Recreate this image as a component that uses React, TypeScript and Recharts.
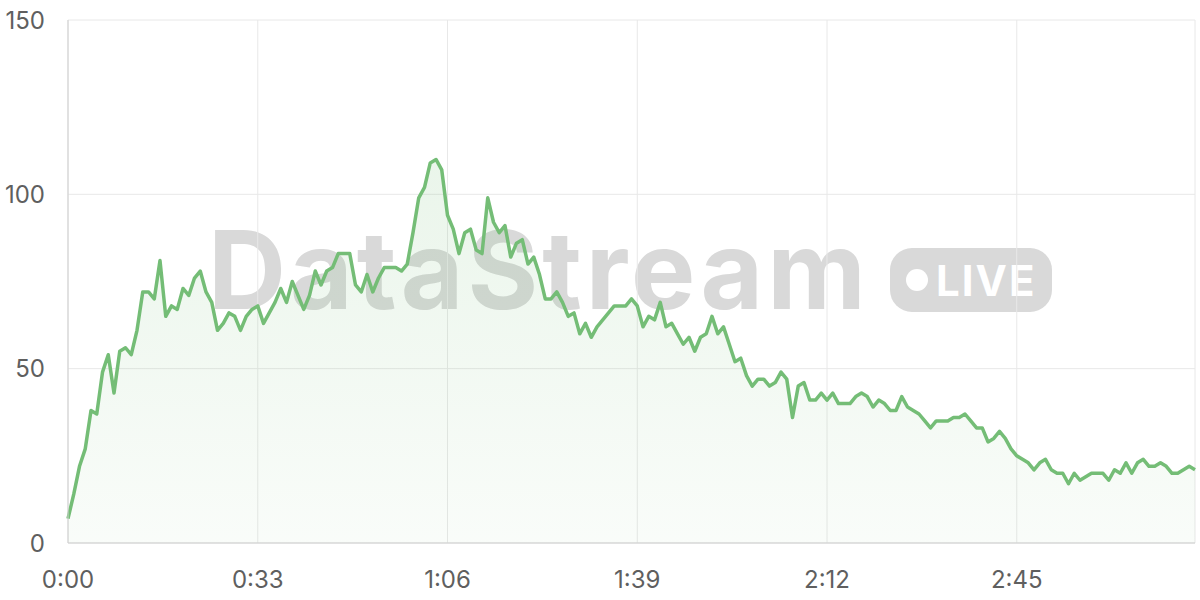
import { AreaChart, Area, XAxis, YAxis, CartesianGrid } from 'recharts'

// viewers per second (0:00 .. 3:16)
const viewers = [
  7, 14, 22, 27, 38, 37, 49, 54, 43, 55, 56, 54, 61, 72, 72, 70, 81, 65, 68, 67,
  73, 71, 76, 78, 72, 69, 61, 63, 66, 65, 61, 65, 67, 68, 63, 66, 69, 73, 69, 75,
  71, 67, 71, 78, 74, 78, 79, 83, 83, 83, 74, 72, 77, 72, 76, 79, 79, 79, 78, 80,
  89, 99, 102, 109, 110, 107, 94, 90, 83, 89, 90, 84, 83, 99, 92, 89, 91, 82, 86, 87,
  80, 82, 77, 70, 70, 72, 69, 65, 66, 60, 63, 59, 62, 64, 66, 68, 68, 68, 70, 68,
  62, 65, 64, 69, 62, 63, 60, 57, 59, 55, 59, 60, 65, 60, 62, 57, 52, 53, 48, 45,
  47, 47, 45, 46, 49, 47, 36, 45, 46, 41, 41, 43, 41, 43, 40, 40, 40, 42, 43, 42,
  39, 41, 40, 38, 38, 42, 39, 38, 37, 35, 33, 35, 35, 35, 36, 36, 37, 35, 33, 33,
  29, 30, 32, 30, 27, 25, 24, 23, 21, 23, 24, 21, 20, 20, 17, 20, 18, 19, 20, 20,
  20, 18, 21, 20, 23, 20, 23, 24, 22, 22, 23, 22, 20, 20, 21, 22, 21,
]
const xTicks = [0, 33, 66, 99, 132, 165]
const yTicks = [0, 50, 100, 150]

const data = viewers.map((v, i) => ({ t: i, v }))

const fmt = (s: number) => `${Math.floor(s / 60)}:${String(s % 60).padStart(2, '0')}`

const tickStyle = { fill: '#5f5f5f', fontSize: 24, fontFamily: 'Inter, sans-serif' }

export default function App() {
  return (
    <div style={{ position: 'absolute', left: 0, top: 0, width: 1200, height: 600, background: '#fff' }}>
      {/* watermark */}
      <div
        style={{
          position: 'absolute', left: 208, top: 205, fontFamily: 'Inter, sans-serif',
          fontWeight: 700, fontSize: 108, letterSpacing: 4, color: '#d9d9d9', lineHeight: '130px',
        }}
      >
        DataStream
      </div>
      <div
        style={{
          position: 'absolute', left: 890, top: 248, width: 162, height: 64, borderRadius: 22,
          background: '#d9d9d9', display: 'flex', alignItems: 'center',
        }}
      >
        <div style={{ width: 22, height: 22, borderRadius: 11, background: '#fff', marginLeft: 16 }} />
        <div style={{ color: '#fff', fontFamily: 'Inter, sans-serif', fontWeight: 700, fontSize: 42, letterSpacing: 2, marginLeft: 8 }}>
          LIVE
        </div>
      </div>

      <div style={{ position: 'absolute', left: 0, top: 0 }}>
        <AreaChart width={1200} height={600} data={data} margin={{ top: 20, right: 5, bottom: 0, left: 0 }}>
          <defs>
            <linearGradient id="fillGreen" x1="0" y1="0" x2="0" y2="1">
              <stop offset="0%" stopColor="#74bd76" stopOpacity={0.25} />
              <stop offset="100%" stopColor="#74bd76" stopOpacity={0.07} />
            </linearGradient>
          </defs>
          <CartesianGrid stroke="#e8e8e8" />
          <XAxis
            dataKey="t"
            type="number"
            domain={[0, 196]}
            ticks={xTicks}
            tickFormatter={fmt}
            height={57}
            tickSize={0}
            tickMargin={28}
            tick={tickStyle}
            axisLine={{ stroke: '#cfcfcf' }}
          />
          <YAxis
            domain={[0, 150]}
            ticks={yTicks}
            width={68}
            tickSize={0}
            tickMargin={23}
            tick={tickStyle}
            axisLine={{ stroke: '#cfcfcf' }}
          />
          <Area
            type="linear"
            dataKey="v"
            stroke="#74bd76"
            strokeWidth={3.5}
            strokeLinejoin="round"
            fill="url(#fillGreen)"
            dot={false}
            isAnimationActive={false}
          />
        </AreaChart>
      </div>
    </div>
  )
}
